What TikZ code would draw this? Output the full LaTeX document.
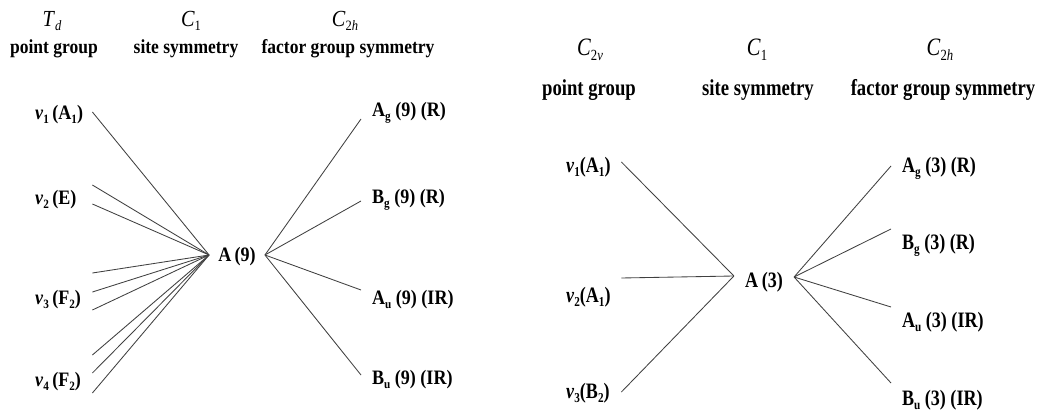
\documentclass[tikz,border=0pt]{standalone}
\usepackage{graphicx}
\usepackage{fontspec}
\setmainfont{Liberation Serif}[FakeStretch=0.88]
\newfontfamily\tallfont{Liberation Serif}[FakeStretch=0.82]
\usetikzlibrary{positioning}
\newcommand{\lo}[1]{\raisebox{-0.4ex}{\scalebox{0.62}{#1}}}
\tikzset{
  hsym/.style={font=\fontsize{23}{26}\selectfont, inner sep=0pt},
  hsymR/.style={font=\tallfont\fontsize{25}{28}\selectfont, inner sep=0pt},
  head/.style={font=\bfseries\fontsize{19.9}{22}\selectfont, inner sep=0pt},
  headR/.style={font=\tallfont\bfseries\fontsize{22.8}{25}\selectfont, inner sep=0pt},
  vlab/.style={font=\bfseries\fontsize{20.5}{22}\selectfont, inner sep=0pt, anchor=west, align=left},
  lab/.style={font=\bfseries\fontsize{20.5}{22}\selectfont, inner sep=0pt, anchor=west},
  site/.style={font=\bfseries\fontsize{20.5}{22}\selectfont, inner ysep=0pt},
  vlabR/.style={vlab, font=\tallfont\bfseries\fontsize{22}{24}\selectfont},
  labR/.style={lab, font=\tallfont\bfseries\fontsize{22}{24}\selectfont},
  siteR/.style={site, font=\tallfont\bfseries\fontsize{22}{24}\selectfont},
  link/.style={line width=0.85pt, black!75},
}

\begin{document}
\begin{tikzpicture}[x=1pt,y=-1pt]
\useasboundingbox (0,0) rectangle (1037,411);

% ============ left panel: T_d -> C_1 -> C_2h ================
\node[hsym] (tdH1) at (52,21) {\textit{T}\lo{\textit{d}}};
\node[head] (tdT1) at (54,49) {point group};
\node[hsym] (tdH2) at (191,21) {\textit{C}\lo{1}};
\node[head] (tdT2) at (186,49) {site symmetry};
\node[hsym] (tdH3) at (345,21) {\textit{C}\lo{2\textit{h}}};
\node[head] (tdT3) at (348,49) {factor group symmetry};

\node[vlab, text width=57pt] (tdV1) at (35,115) {\textit{v}\lo{1}\,(A\lo{1})};
\node[vlab, text width=57pt] (tdV2) at (35,200) {\textit{v}\lo{2}\,(E)};
\node[vlab, text width=57pt] (tdV3) at (35,300) {\textit{v}\lo{3}\,(F\lo{2})};
\node[vlab, text width=57pt] (tdV4) at (35,382) {\textit{v}\lo{4}\,(F\lo{2})};
\node[site, inner xsep=9pt] (tdA) at (237,257) {A\,(9)};
\node[lab] (tdAg) at (372,113) {A\lo{g} (9) (R)};
\node[lab] (tdBg) at (372,200) {B\lo{g} (9) (R)};
\node[lab] (tdAu) at (372,300) {A\lo{u} (9) (IR)};
\node[lab] (tdBu) at (372,380) {B\lo{u} (9) (IR)};

% one line per component of each mode
\foreach \n/\s in {tdV1/3, tdV2/15, tdV2/-4, tdV3/27, tdV3/8, tdV3/-10, tdV4/27, tdV4/9, tdV4/-11}
  \draw[link] ([yshift=\s pt]\n.east) -- ([yshift=2pt]tdA.west);
\foreach \n/\s in {tdAg/-6, tdBg/-1, tdAu/10, tdBu/5}
  \draw[link] ([yshift=2pt]tdA.east) -- ([xshift=-11pt,yshift=\s pt]\n.west);

% ============ right panel: C_2v -> C_1 -> C_2h ===============
\node[hsymR] (cvH1) at (590,50) {\textit{C}\lo{2\textit{v}}};
\node[headR] (cvT1) at (589,90) {point group};
\node[hsymR] (cvH2) at (757,50) {\textit{C}\lo{1}};
\node[headR] (cvT2) at (758,90) {site symmetry};
\node[hsymR] (cvH3) at (940,50) {\textit{C}\lo{2\textit{h}}};
\node[headR] (cvT3) at (943,90) {factor group symmetry};

\node[vlabR, text width=55pt] (cvV1) at (566,167) {\textit{v}\lo{1}(A\lo{1})};
\node[vlabR, text width=55pt] (cvV2) at (566,297) {\textit{v}\lo{2}(A\lo{1})};
\node[vlabR, text width=55pt] (cvV3) at (566,393) {\textit{v}\lo{3}(B\lo{2})};
\node[siteR, inner xsep=11pt] (cvA) at (764,282) {A\,(3)};
\node[labR] (cvAg) at (902,168) {A\lo{g} (3) (R)};
\node[labR] (cvBg) at (902,245) {B\lo{g} (3) (R)};
\node[labR] (cvAu) at (902,322) {A\lo{u} (3) (IR)};
\node[labR] (cvBu) at (902,400) {B\lo{u} (3) (IR)};

\foreach \n/\s in {cvV1/5, cvV2/19, cvV3/1}
  \draw[link] ([yshift=\s pt]\n.east) -- ([yshift=6pt]cvA.west);
\foreach \n/\s in {cvAg/2, cvBg/16, cvAu/15, cvBu/17}
  \draw[link] ([yshift=5pt]cvA.east) -- ([xshift=-11pt,yshift=\s pt]\n.west);

\end{tikzpicture}
\end{document}
